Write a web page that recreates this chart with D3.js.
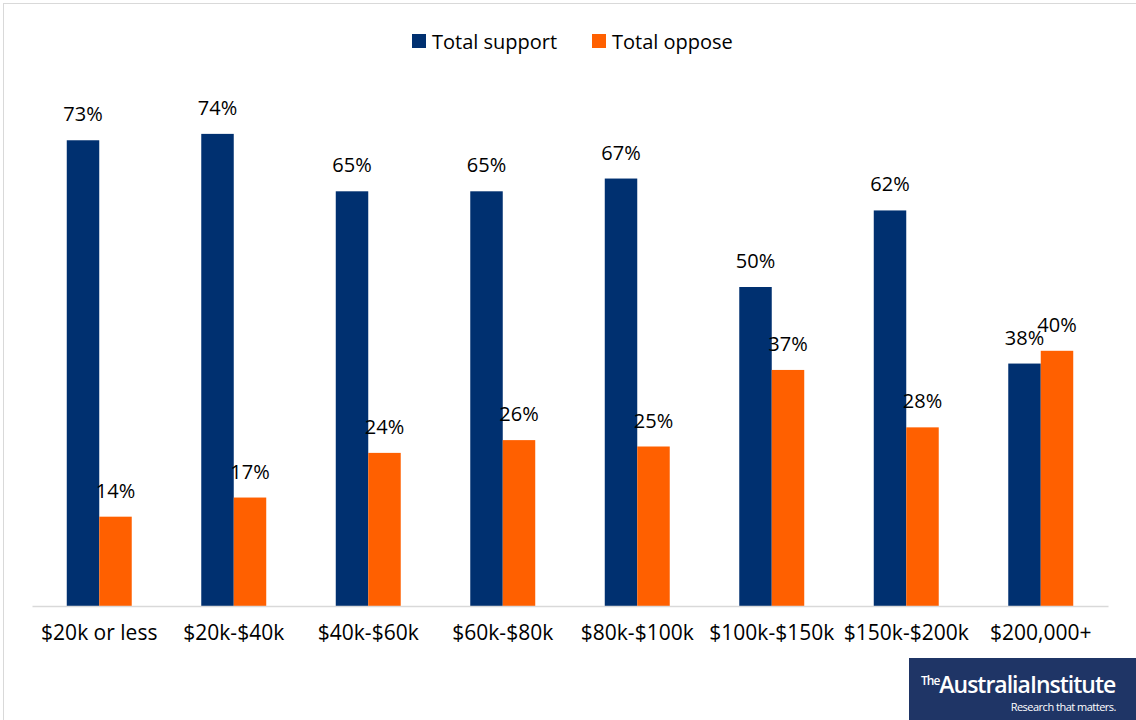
<!DOCTYPE html>
<html><head><meta charset="utf-8">
<script src="https://cdn.jsdelivr.net/npm/d3@7"></script>
<style>body{margin:0;background:#fff;}svg{display:block;font-family:"Open Sans","Noto Sans",sans-serif;}</style>
</head><body>
<svg id="c" width="1136" height="720"></svg>
<script>
const categories = ["$20k or less","$20k-$40k","$40k-$60k","$60k-$80k","$80k-$100k","$100k-$150k","$150k-$200k","$200,000+"];
const support = [73,74,65,65,67,50,62,38];
const oppose = [14,17,24,26,25,37,28,40];
const seriesNames = ["Total support","Total oppose"];
const colors = ["#003070","#ff6000"];

const svg = d3.select("#c");
svg.append("rect").attr("x",3.5).attr("y",3.5).attr("width",1140).attr("height",730)
  .attr("fill","none").attr("stroke","#d9d9d9").attr("stroke-width",1);

const x = d3.scaleBand().domain(categories).range([32,1108]).paddingInner(0).paddingOuter(0);
const inner = d3.scaleBand().domain([0,1]).range([0,x.bandwidth()]).paddingInner(0).paddingOuter(1.07);
const y = d3.scaleLinear().domain([0,80]).range([606,95.6]);

const data = categories.map((c,i)=>({c, vals:[support[i],oppose[i]]}));
const g = svg.selectAll("g.grp").data(data).join("g").attr("class","grp")
  .attr("transform",d=>`translate(${x(d.c)},0)`);
g.selectAll("rect").data(d=>d.vals).join("rect")
  .attr("x",(v,j)=>inner(j)).attr("width",inner.bandwidth())
  .attr("y",v=>y(v)).attr("height",v=>y(0)-y(v)).attr("fill",(v,j)=>colors[j]);
g.selectAll("text").data(d=>d.vals).join("text")
  .attr("x",(v,j)=>inner(j)+inner.bandwidth()/2).attr("y",v=>y(v)-19)
  .attr("text-anchor","middle").attr("font-size",20).attr("fill","#000")
  .text(v=>v+"%");

const ax = svg.append("g").attr("transform","translate(0,606)").call(d3.axisBottom(x).tickSize(0).tickPadding(19));
ax.select(".domain").attr("stroke","#d9d9d9").attr("stroke-width",1.5);
ax.selectAll("text").attr("font-size",21).attr("fill","#000").attr("font-family","\"Open Sans\",sans-serif");

const leg = svg.append("g");
const lx = [412,592];
seriesNames.forEach((n,i)=>{
  leg.append("rect").attr("x",lx[i]).attr("y",34).attr("width",14).attr("height",14).attr("fill",colors[i]);
  leg.append("text").attr("x",lx[i]+20).attr("y",49).attr("font-size",20).attr("fill","#000").text(n);
});

const logo = svg.append("g");
logo.append("rect").attr("x",909).attr("y",658).attr("width",227).attr("height",62).attr("fill","#1f3566");
logo.append("text").attr("x",921).attr("y",693).attr("fill","#fff").attr("font-family","\"Open Sans\",sans-serif")
  .attr("font-weight",600).attr("letter-spacing",-1)
  .call(t=>{t.append("tspan").attr("font-size",12).attr("dy",-8).text("The");
           t.append("tspan").attr("font-size",23).attr("dy",8).text("AustraliaInstitute");});
logo.append("text").attr("x",1116).attr("y",711).attr("text-anchor","end").attr("fill","#fff")
  .attr("font-size",11).attr("font-family","\"Open Sans\",sans-serif").attr("letter-spacing",-0.5).text("Research that matters.");
</script>
</body></html>
